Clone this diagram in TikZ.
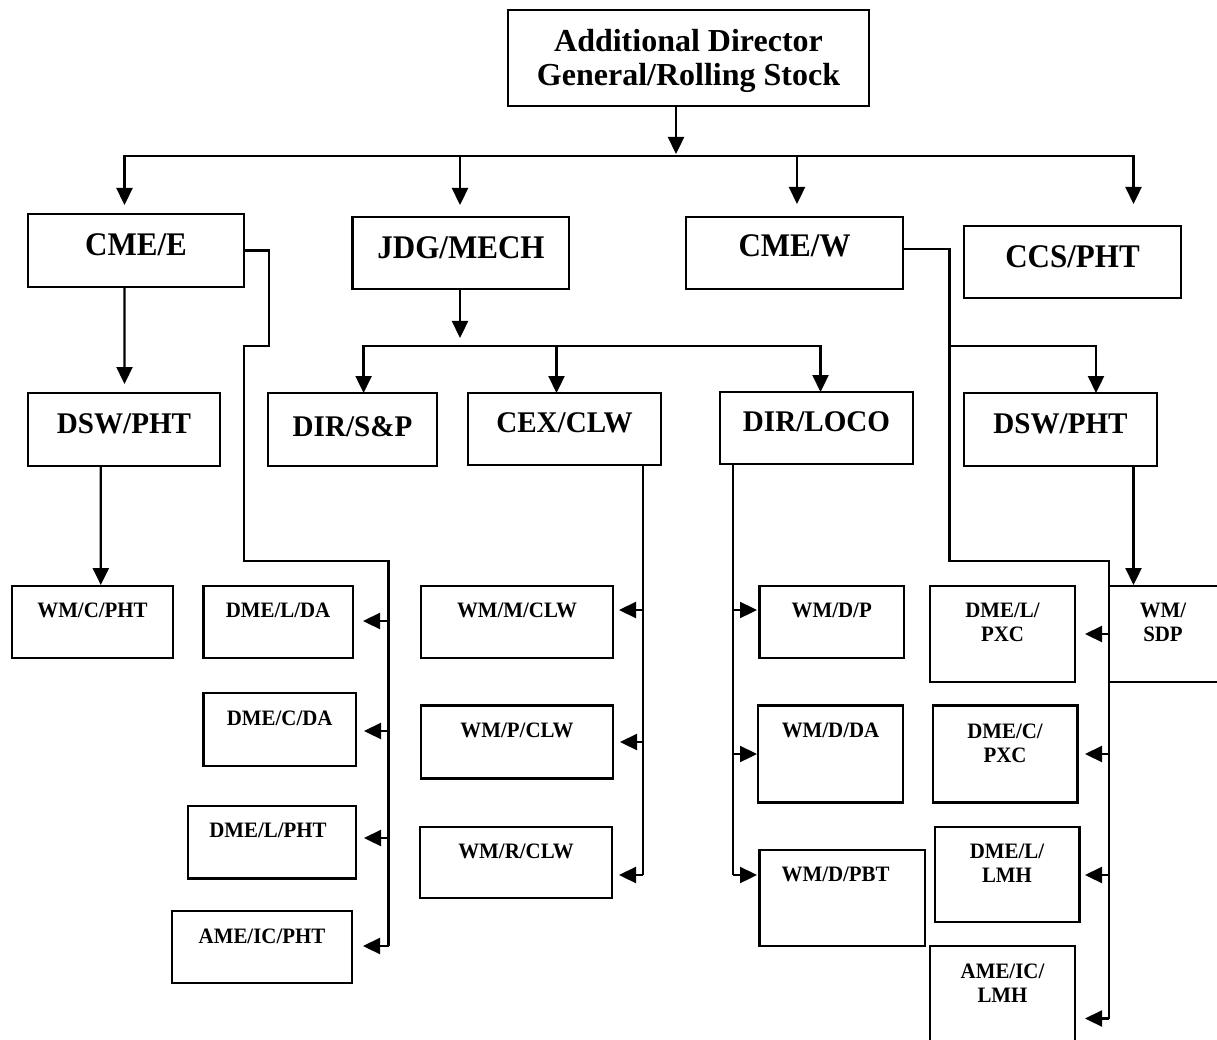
\documentclass[tikz,border=0pt]{standalone}
\usepackage{fontspec}
\setmainfont{Liberation Serif}
\newfontfamily\headfont{Liberation Serif}[FakeStretch=0.94]
\newfontfamily\subfont{Liberation Serif}[FakeStretch=0.97]
\newfontfamily\unitfont{Liberation Serif}[FakeStretch=0.95]
\usetikzlibrary{arrows.meta}

% box given by its corners: name, x1, y1, x2, y2
\newcommand\orgbox[5]{%
  \node[box, minimum width={(#4)-(#2)}, minimum height={(#5)-(#3)}]
    (#1) at ({((#2)+(#4))/2},{((#3)+(#5))/2}) {};}

\begin{document}
\begin{tikzpicture}[x=1pt,y=-1pt,
  box/.style={draw, line width=2.3pt, inner sep=0pt, outer sep=0pt},
  wire/.style={line width=2.3pt, line join=miter},
  tip/.style={-{Triangle[length=17pt,width=16pt]}},
  arr/.style={wire, tip},
  both/.style={wire, {Triangle[length=17pt,width=16pt]}-{Triangle[length=17pt,width=16pt]}},
  top/.style={font=\fontsize{32}{38}\selectfont\bfseries, anchor=base, inner sep=0pt},
  big/.style={font=\headfont\fontsize{33}{38}\selectfont\bfseries, anchor=base, inner sep=0pt},
  mid/.style={font=\subfont\fontsize{30}{35}\selectfont\bfseries, anchor=base, inner sep=0pt},
  small/.style={font=\unitfont\fontsize{22}{24}\selectfont\bfseries, anchor=base, inner sep=0pt},
]
\useasboundingbox (0,0) rectangle (1217,1040);

% ---- boxes ----
\orgbox{adg}{508}{10}{869}{106}
\orgbox{cmee}{27.7}{214}{244}{287}
\orgbox{jdg}{352.6}{217}{569}{289}
\orgbox{cmew}{686}{217}{903}{289}
\orgbox{ccs}{964}{226}{1181}{298}
\orgbox{dswl}{27.7}{393}{220}{466}
\orgbox{dirsp}{268}{393}{437}{466}
\orgbox{cex}{468}{393}{661}{465}
\orgbox{loco}{720}{392}{913}{464}
\orgbox{dswr}{964}{393}{1157}{466}
\orgbox{wmc}{12}{586}{173}{658}
\orgbox{dmelda}{203.5}{586}{353}{658}
\orgbox{dmecda}{203.5}{693}{356}{766}
\orgbox{dmelpht}{188}{806}{356}{878.5}
\orgbox{ameicpht}{172}{911}{352}{983}
\orgbox{wmm}{421}{586}{613}{658}
\orgbox{wmp}{421}{705.5}{613}{778.5}
\orgbox{wmr}{420}{826.7}{612}{898}
\orgbox{wmdp}{759.5}{586}{904}{658}
\orgbox{wmdda}{758}{705.5}{903}{802.6}
\orgbox{wmdpbt}{759.5}{850}{925}{946}
\orgbox{dmelpxc}{930}{586}{1075}{682}
\orgbox{wmsdp}{1109}{586}{1226}{682}
\orgbox{dmecpxc}{932.7}{705.5}{1077.6}{802.6}
\orgbox{dmellmh}{935}{826.7}{1079.5}{922}
\orgbox{ameiclmh}{930}{946}{1075}{1052}

% ---- texts ----
\node[top] (adg-a) at (688.5,51.5) {Additional Director};
\node[top] (adg-b) at (688.5,86) {General/Rolling Stock};
\node[big] (cmee-t) at (136,256) {CME/E};
\node[big] (jdg-t) at (461,259) {JDG/MECH};
\node[big] (cmew-t) at (794.5,257) {CME/W};
\node[big] (ccs-t) at (1072.5,268) {CCS/PHT};
\node[mid] (dswl-t) at (124,433) {DSW/PHT};
\node[mid] (dirsp-t) at (352.5,436) {DIR/S\&P};
\node[mid] (cex-t) at (564.5,432) {CEX/CLW};
\node[mid] (loco-t) at (816.5,431) {DIR/LOCO};
\node[mid] (dswr-t) at (1060.5,433) {DSW/PHT};
\node[small] (wmc-t) at (92.5,617) {WM/C/PHT};
\node[small] (dmelda-t) at (278,617) {DME/L/DA};
\node[small] (dmecda-t) at (279.7,725) {DME/C/DA};
\node[small] (dmelpht-t) at (268,837) {DME/L/PHT};
\node[small] (ameicpht-t) at (262,943) {AME/IC/PHT};
\node[small] (wmm-t) at (517,617) {WM/M/CLW};
\node[small] (wmp-t) at (517,737) {WM/P/CLW};
\node[small] (wmr-t) at (516,858) {WM/R/CLW};
\node[small] (wmdp-t) at (831.7,617) {WM/D/P};
\node[small] (wmdda-t) at (830.5,737) {WM/D/DA};
\node[small] (wmdpbt-t) at (835.6,881) {WM/D/PBT};
\node[small] (dmelpxc-a) at (1002.5,617) {DME/L/};
\node[small] (dmelpxc-b) at (1002.5,641) {PXC};
\node[small] (wmsdp-a) at (1163,617) {WM/};
\node[small] (wmsdp-b) at (1163,641) {SDP};
\node[small] (dmecpxc-a) at (1005,738) {DME/C/};
\node[small] (dmecpxc-b) at (1005,762) {PXC};
\node[small] (dmellmh-a) at (1007,858) {DME/L/};
\node[small] (dmellmh-b) at (1007,882) {LMH};
\node[small] (ameiclmh-a) at (1002.5,978) {AME/IC/};
\node[small] (ameiclmh-b) at (1002.5,1002) {LMH};

% ---- junction points ----
\coordinate (busa) at (676,156);
\coordinate (busb) at (460,346);

% ---- top level ----
\draw[arr] ([xshift=-12.5pt]adg.south) -- ([yshift=2pt]busa);
\draw[both] (124.5,205) -- (124.5,156) -- (1133.5,156) -- (1133.5,204);
\draw[arr] (460,156) -- (460,205);
\draw[arr] (797,156) -- (797,204);

% ---- CME/E branch ----
\draw[arr] ([xshift=-11.35pt]cmee.south) -- (124.5,384);
\draw[arr] ([xshift=-23.05pt]dswl.south) -- (100.8,585);
\draw[wire] (cmee.east) -- (269,250.5) -- (269,346) -- (244,346) -- (244,561)
  -- (388.5,561) -- (388.5,946);
\draw[arr] (388.5,946) -- (363,946);
\draw[arr] (388.5,621) -- (363,621);
\draw[arr] (388.5,731) -- (364,731);
\draw[arr] (388.5,838) -- (364,838);

% ---- JDG/MECH branch ----
\draw[arr] ([xshift=-0.8pt]jdg.south) -- ([yshift=8pt]busb);
\draw[both] (363.6,393) -- (363.6,346) -- (820.5,346) -- (820.5,392);
\draw[arr] (556.5,346) -- (cex.north -| 556.5,0);
\draw[wire] ([xshift=78.5pt]cex.south) -- (643,875);
\draw[arr] (643,875) -- (619,875);
\draw[arr] (643,610) -- (619,610);
\draw[arr] (643,742) -- (620,742);
\draw[wire] ([xshift=-83.5pt]loco.south) -- (733,875);
\draw[arr] (733,875) -- (757,875);
\draw[arr] (733,610) -- (757,610);
\draw[arr] (733,754) -- (757,754);

% ---- CME/W branch ----
\draw[wire] ([yshift=4pt]cmew.east) -- (949.6,249) -- (949.6,561) -- (1109,561) -- (1109,1018.5);
\draw[arr] (1109,1018.5) -- (1085,1018.5);
\draw[arr] (1109,634) -- (1085,634);
\draw[arr] (1109,754) -- (1085,754);
\draw[arr] (1109,875) -- (1085,875);
\draw[arr] (949.6,346) -- (1096,346) -- (dswr.north -| 1096,0);
\draw[arr] ([xshift=73pt]dswr.south) -- (1133.5,585);
\end{tikzpicture}
\end{document}
